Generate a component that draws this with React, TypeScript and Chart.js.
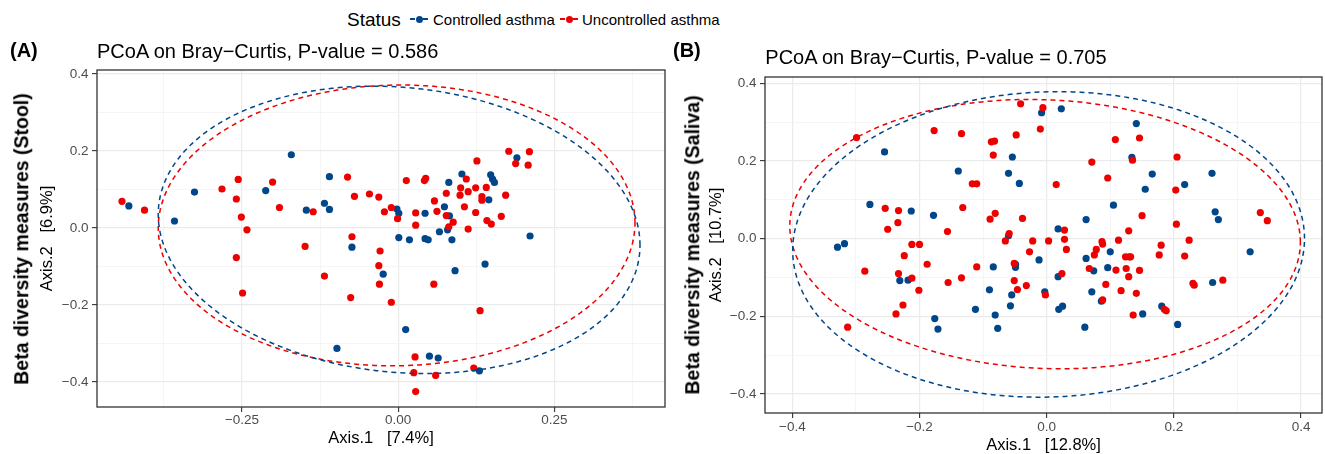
import React, { useEffect, useRef } from "react";
import { Chart, registerables } from "chart.js";

Chart.register(...registerables);

const FONT = '"Liberation Sans", Arial, Helvetica, sans-serif';
const BLUE = "#00468B";
const RED = "#ED0000";

const legendTitle = "Status";
const statusLabels = ["Controlled asthma", "Uncontrolled asthma"];

// ---------- Panel A : Stool ----------
const stoolControlledX = [-0.431, -0.358, -0.326, -0.212, -0.171, -0.147, -0.118, -0.11, -0.11, -0.074, -0.098, -0.002, 0.001, 0.043, 0.066, 0.074, 0.081, 0.082, 0.079, 0.102, 0.145, 0.148, 0.151, 0.154, 0.19, 0.211, 0.001, 0.018, 0.043, 0.048, 0.086, -0.024, 0.091, 0.139, 0.012, 0.05, 0.064, 0.13];
const stoolControlledY = [0.057, 0.018, 0.093, 0.097, 0.19, 0.046, 0.064, 0.048, 0.133, -0.05, -0.313, 0.049, 0.038, 0.038, -0.01, 0.055, 0.118, 0.031, -0.005, 0.14, 0.073, 0.138, 0.127, 0.118, 0.182, -0.021, -0.025, -0.031, -0.028, -0.031, -0.031, -0.12, -0.111, -0.094, -0.264, -0.333, -0.338, -0.371];
const stoolUncontrolledX = [-0.442, -0.406, -0.282, -0.256, -0.259, -0.251, -0.242, -0.259, -0.201, -0.19, -0.136, -0.081, -0.07, -0.046, -0.074, -0.149, -0.118, -0.249, -0.076, -0.031, -0.022, -0.011, -0.001, 0.013, 0.028, 0.028, 0.042, 0.044, 0.058, 0.062, 0.077, 0.077, 0.088, 0.081, 0.109, 0.1, 0.099, 0.112, 0.106, 0.112, 0.124, 0.126, 0.124, 0.134, 0.134, 0.141, 0.142, 0.149, 0.172, 0.165, 0.177, 0.188, 0.21, 0.208, -0.029, -0.031, -0.03, -0.011, 0.057, 0.131, 0.027, 0.025, 0.06, 0.028, 0.121];
const stoolUncontrolledY = [0.069, 0.046, 0.101, 0.126, 0.075, 0.028, -0.005, -0.077, 0.119, 0.053, 0.042, 0.132, 0.082, 0.088, -0.023, -0.048, -0.125, -0.169, -0.181, 0.08, 0.042, 0.053, 0.024, 0.123, 0.039, 0.007, 0.123, 0.129, 0.07, 0.043, 0.09, 0.032, 0.015, 0.003, 0.127, 0.104, 0.085, 0.094, 0.055, -0.003, 0.104, 0.174, 0.04, 0.081, 0.072, 0.105, 0.019, 0.01, 0.085, 0.03, 0.199, 0.167, 0.198, 0.163, -0.06, -0.098, -0.146, -0.193, -0.146, -0.215, -0.335, -0.376, -0.383, -0.425, -0.364];
// ellipse: centre x, centre y, x radius, y radius, shear
const stoolControlledEllipse = [0.0015, -0.005, 0.3855, 0.371, -0.04];
const stoolUncontrolledEllipse = [-0.0025, 0.0065, 0.3815, 0.3645, 0.0065];
const stoolXRange = [-0.482, 0.427];
const stoolYRange = [-0.465, 0.41];
const stoolXMajor = [-0.25, 0, 0.25];
const stoolXMinor = [-0.375, -0.125, 0.125, 0.375];
const stoolXLabels = ["\u22120.25", "0.00", "0.25"];
const stoolYMajor = [-0.4, -0.2, 0, 0.2, 0.4];
const stoolYMinor = [-0.3, -0.1, 0.1, 0.3];
const stoolYLabels = ["\u22120.4", "\u22120.2", "0.0", "0.2", "0.4"];

// ---------- Panel B : Saliva ----------
const salivaControlledX = [-0.255, -0.139, -0.278, -0.213, -0.178, -0.329, -0.318, -0.231, -0.218, -0.084, -0.176, -0.171, -0.112, -0.09, -0.081, -0.077, -0.008, 0.023, 0.141, -0.054, 0.134, -0.06, -0.043, 0.166, 0.155, 0.217, 0.26, 0.105, 0.062, 0.265, 0.27, -0.06, 0.018, -0.012, -0.049, -0.049, -0.055, -0.057, -0.003, 0.018, 0.019, 0.025, 0.062, 0.074, 0.096, 0.1, 0.071, 0.086, 0.151, 0.06, 0.181, 0.206, 0.261, 0.32];
const salivaControlledY = [0.223, 0.174, 0.088, 0.071, 0.06, -0.022, -0.013, -0.108, -0.107, -0.073, -0.206, -0.233, -0.182, -0.132, -0.197, -0.231, 0.324, 0.334, 0.296, 0.21, 0.209, 0.168, 0.142, 0.166, 0.127, 0.139, 0.168, 0.086, 0.049, 0.069, 0.049, 0.007, 0.025, -0.055, -0.066, -0.074, -0.145, -0.173, -0.137, -0.098, -0.182, -0.174, -0.051, -0.083, -0.075, -0.034, -0.137, -0.161, -0.194, -0.228, -0.174, -0.221, -0.113, -0.034];
const salivaUncontrolledX = [-0.299, -0.177, -0.134, -0.117, -0.11, -0.087, -0.082, -0.084, -0.254, -0.233, -0.234, -0.25, -0.132, -0.156, -0.089, -0.081, -0.212, -0.2, -0.286, -0.233, -0.212, -0.224, -0.188, -0.201, -0.155, -0.134, -0.11, -0.226, -0.237, -0.313, -0.041, -0.006, -0.01, -0.048, 0.108, 0.146, 0.135, 0.071, 0.205, 0.015, 0.096, 0.203, 0.15, 0.204, 0.336, 0.347, -0.038, -0.059, -0.065, 0.028, 0.028, -0.022, 0.003, 0.129, 0.113, 0.087, 0.088, 0.224, 0.18, 0.031, -0.027, -0.051, -0.051, -0.046, -0.032, -0.002, 0.024, 0.075, 0.078, 0.067, 0.109, 0.124, 0.13, 0.132, 0.125, 0.129, 0.146, 0.093, 0.117, 0.141, 0.088, 0.136, 0.185, 0.188, 0.177, 0.217, 0.23, 0.232, 0.277];
const salivaUncontrolledY = [0.26, 0.278, 0.27, 0.141, 0.141, 0.249, 0.251, 0.215, 0.078, 0.072, 0.041, 0.024, 0.08, 0.018, 0.05, 0.065, -0.015, -0.015, -0.084, -0.09, -0.102, -0.044, -0.066, -0.133, -0.113, -0.101, -0.073, -0.171, -0.194, -0.228, 0.347, 0.337, 0.282, 0.267, 0.255, 0.259, 0.202, 0.197, 0.21, 0.139, 0.156, 0.125, 0.059, 0.037, 0.067, 0.046, 0.052, 0.013, -0.006, 0.022, -0.002, -0.006, -0.006, 0.02, -0.004, -0.008, -0.014, -0.004, -0.017, -0.028, -0.034, -0.064, -0.108, -0.131, -0.121, -0.145, -0.09, -0.042, -0.028, -0.077, -0.081, -0.047, -0.047, -0.047, -0.077, -0.098, -0.082, -0.118, -0.134, -0.141, -0.158, -0.197, -0.182, -0.186, -0.042, -0.045, -0.115, -0.12, -0.107];
const salivaControlledEllipse = [0.003, -0.015, 0.4025, 0.393, 0.015];
const salivaUncontrolledEllipse = [-0.0025, 0.0115, 0.4015, 0.346, -0.021];
const salivaXRange = [-0.443, 0.433];
const salivaYRange = [-0.449, 0.416];
const salivaXMajor = [-0.4, -0.2, 0, 0.2, 0.4];
const salivaXMinor = [-0.3, -0.1, 0.1, 0.3];
const salivaXLabels = ["\u22120.4", "\u22120.2", "0.0", "0.2", "0.4"];
const salivaYMajor = [-0.4, -0.2, 0, 0.2, 0.4];
const salivaYMinor = [-0.3, -0.1, 0.1, 0.3];
const salivaYLabels = ["\u22120.4", "\u22120.2", "0.0", "0.2", "0.4"];

function toPoints(xs: number[], ys: number[]) {
  return xs.map((x, i) => ({ x, y: ys[i] }));
}

function ellipsePath(p: number[]) {
  const [cx, cy, rx, ry, k] = p;
  const pts: { x: number; y: number }[] = [];
  const n = 200;
  for (let i = 0; i <= n; i++) {
    const t = (i / n) * Math.PI * 2;
    pts.push({ x: cx + rx * Math.cos(t), y: cy + ry * Math.sin(t) + k * Math.cos(t) });
  }
  return pts;
}

const framePlugin = {
  id: "frame",
  afterDatasetsDraw(chart: any) {
    const { ctx, chartArea: a } = chart;
    ctx.save();
    ctx.strokeStyle = "#333333";
    ctx.lineWidth = 1.3;
    ctx.strokeRect(a.left, a.top, a.right - a.left, a.bottom - a.top);
    ctx.restore();
  },
};

function axis(
  major: number[],
  minor: number[],
  labels: string[],
  range: number[],
  title: string,
  tickPad: number,
  titlePad: any,
  fit: (s: any) => void
) {
  const all = [...major, ...minor].sort((a, b) => a - b);
  const isMajor = (v: any) => typeof v === "number" && major.some((m) => Math.abs(m - v) < 1e-9);
  return {
    type: "linear",
    min: range[0],
    max: range[1],
    afterBuildTicks: (s: any) => {
      s.ticks = all.map((v) => ({ value: v }));
    },
    afterFit: fit,
    ticks: {
      autoSkip: false,
      maxRotation: 0,
      minRotation: 0,
      padding: tickPad,
      color: "#4D4D4D",
      font: { family: FONT, size: 13.5 },
      callback: (v: any) => {
        const i = major.findIndex((m) => Math.abs(m - v) < 1e-9);
        return i >= 0 ? labels[i] : "";
      },
    },
    grid: {
      color: (c: any) => (isMajor(c.tick && c.tick.value) ? "#EBEBEB" : "#F2F2F2"),
      lineWidth: (c: any) => (isMajor(c.tick && c.tick.value) ? 1.2 : 0.8),
      tickColor: (c: any) => (isMajor(c.tick && c.tick.value) ? "#333333" : "rgba(0,0,0,0)"),
      tickLength: 5,
      tickWidth: 1.1,
    },
    border: { display: false },
    title: {
      display: true,
      text: title,
      color: "#000000",
      font: { family: FONT, size: 16.5, lineHeight: 1 },
      padding: titlePad,
    },
  };
}

type PanelSpec = {
  controlled: { x: number; y: number }[];
  uncontrolled: { x: number; y: number }[];
  controlledEllipse: number[];
  uncontrolledEllipse: number[];
  xAxis: any;
  yAxis: any;
  padding: any;
};

function buildChart(canvas: HTMLCanvasElement, spec: PanelSpec) {
  const ellipseStyle = {
    type: "line",
    showLine: true,
    pointRadius: 0,
    borderWidth: 1.5,
    borderDash: [5, 4],
    fill: false,
    tension: 0,
    order: 0,
  };
  return new Chart(canvas, {
    type: "scatter",
    data: {
      datasets: [
        { ...ellipseStyle, label: statusLabels[0] + " ellipse", data: ellipsePath(spec.controlledEllipse), borderColor: BLUE },
        { ...ellipseStyle, label: statusLabels[1] + " ellipse", data: ellipsePath(spec.uncontrolledEllipse), borderColor: RED },
        {
          label: statusLabels[1],
          data: spec.uncontrolled,
          backgroundColor: RED,
          borderWidth: 0,
          pointRadius: 3.6,
          order: 1,
        },
        {
          label: statusLabels[0],
          data: spec.controlled,
          backgroundColor: BLUE,
          borderWidth: 0,
          pointRadius: 3.6,
          order: 2,
        },
      ],
    } as any,
    options: {
      animation: false,
      responsive: false,
      maintainAspectRatio: false,
      devicePixelRatio: 1,
      layout: { padding: spec.padding },
      plugins: { legend: { display: false }, tooltip: { enabled: false } },
      scales: { x: spec.xAxis, y: spec.yAxis },
    } as any,
    plugins: [framePlugin],
  });
}

const abs = (o: React.CSSProperties): React.CSSProperties => ({ position: "absolute", whiteSpace: "pre", fontFamily: FONT, lineHeight: 1, ...o });

function LegendKey({ color, left }: { color: string; left: number }) {
  return (
    <div style={{ position: "absolute", left, top: 14, width: 18, height: 10 }}>
      <div style={{ position: "absolute", left: 0, top: 4.3, width: 5, height: 1.4, background: color }} />
      <div style={{ position: "absolute", left: 13, top: 4.3, width: 5, height: 1.4, background: color }} />
      <div style={{ position: "absolute", left: 5.5, top: 1.5, width: 7, height: 7, borderRadius: "50%", background: color }} />
    </div>
  );
}

export default function App() {
  const refA = useRef<HTMLCanvasElement>(null);
  const refB = useRef<HTMLCanvasElement>(null);

  useEffect(() => {
    const a = buildChart(refA.current!, {
      controlled: toPoints(stoolControlledX, stoolControlledY),
      uncontrolled: toPoints(stoolUncontrolledX, stoolUncontrolledY),
      controlledEllipse: stoolControlledEllipse,
      uncontrolledEllipse: stoolUncontrolledEllipse,
      xAxis: axis(stoolXMajor, stoolXMinor, stoolXLabels, stoolXRange, "Axis.1   [7.4%]", 0, { top: 0, bottom: 7.5 }, (s: any) => {
        s.height = 47;
      }),
      yAxis: axis(stoolYMajor, stoolYMinor, stoolYLabels, stoolYRange, "Axis.2   [6.9%]", 3.5, { top: 9.7, bottom: 0 }, (s: any) => {
        s.width = 67;
      }),
      padding: { top: 20, right: 10, bottom: 0, left: 0 },
    });
    const b = buildChart(refB.current!, {
      controlled: toPoints(salivaControlledX, salivaControlledY),
      uncontrolled: toPoints(salivaUncontrolledX, salivaUncontrolledY),
      controlledEllipse: salivaControlledEllipse,
      uncontrolledEllipse: salivaUncontrolledEllipse,
      xAxis: axis(salivaXMajor, salivaXMinor, salivaXLabels, salivaXRange, "Axis.1   [12.8%]", 1, { top: 0, bottom: 0 }, (s: any) => {
        s.height = 41;
      }),
      yAxis: axis(salivaYMajor, salivaYMinor, salivaYLabels, salivaYRange, "Axis.2   [10.7%]", 3.5, { top: 8.4, bottom: 0 }, (s: any) => {
        s.width = 65;
      }),
      padding: { top: 21, right: 0, bottom: 0, left: 0 },
    });
    return () => {
      a.destroy();
      b.destroy();
    };
  }, []);

  return (
    <div style={{ position: "absolute", left: 0, top: 0, width: 1325, height: 454, overflow: "hidden", background: "#ffffff" }}>
      <canvas ref={refA} width={645} height={404} style={{ position: "absolute", left: 30, top: 50, width: 645, height: 404 }} />
      <canvas ref={refB} width={626} height={398} style={{ position: "absolute", left: 700, top: 56, width: 626, height: 398 }} />

      {/* shared legend */}
      <div style={abs({ left: 347, top: 10, fontSize: 19, color: "#000" })}>{legendTitle}</div>
      <LegendKey color={BLUE} left={410} />
      <div style={abs({ left: 433, top: 12, fontSize: 15, color: "#000" })}>{statusLabels[0]}</div>
      <LegendKey color={RED} left={560} />
      <div style={abs({ left: 582, top: 12, fontSize: 15, color: "#000" })}>{statusLabels[1]}</div>

      {/* panel A texts */}
      <div style={abs({ left: 10, top: 39.8, fontSize: 20, fontWeight: "bold", color: "#000" })}>(A)</div>
      <div style={abs({ left: 97, top: 40.6, fontSize: 20, color: "#000" })}>PCoA on Bray{"\u2212"}Curtis, P-value = 0.586</div>
      <div style={abs({ left: 22, top: 238.5, fontSize: 19.5, fontWeight: "bold", color: "#000", transform: "translate(-50%, -50%) rotate(-90deg)" })}>
        Beta diversity measures (Stool)
      </div>

      {/* panel B texts */}
      <div style={abs({ left: 673, top: 39.8, fontSize: 20, fontWeight: "bold", color: "#000" })}>(B)</div>
      <div style={abs({ left: 765.3, top: 47.4, fontSize: 20, color: "#000" })}>PCoA on Bray{"\u2212"}Curtis, P-value = 0.705</div>
      <div style={abs({ left: 693, top: 245, fontSize: 19.5, fontWeight: "bold", color: "#000", transform: "translate(-50%, -50%) rotate(-90deg)" })}>
        Beta diversity measures (Saliva)
      </div>
    </div>
  );
}
